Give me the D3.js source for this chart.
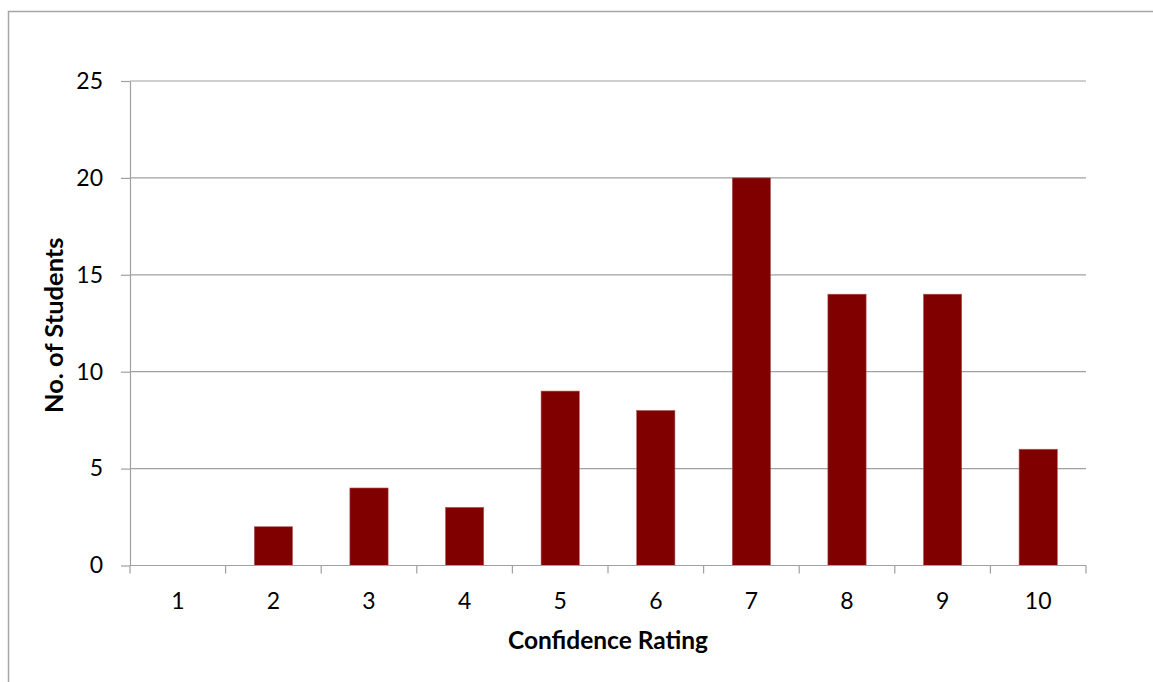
<!DOCTYPE html>
<html>
<head>
<meta charset="utf-8">
<script src="https://cdn.jsdelivr.net/npm/d3@7/dist/d3.min.js"></script>
<style>
html,body{margin:0;padding:0;background:#fff;}
svg{display:block;}
</style>
</head>
<body>
<svg id="chart" width="1153" height="682"></svg>
<script>
const categories = ["1","2","3","4","5","6","7","8","9","10"];
const students = [0,2,4,3,9,8,20,14,14,6];
const yTicks = [0,5,10,15,20,25];
const xTitle = "Confidence Rating";
const yTitle = "No. of Students";

const svg = d3.select("#chart");
const W = 1153, H = 682;
const m = {left:130, right:W-1086, top:81, bottom:H-565.5};
const font = "Lato, 'Liberation Sans', sans-serif";

// outer chart border
svg.append("path")
  .attr("d", `M8.5,682 L8.5,11.5 L1153,11.5`)
  .attr("fill","none").attr("stroke","#a6a6a6").attr("stroke-width",1.5);

const x = d3.scaleBand().domain(categories).range([m.left, W-m.right]).paddingInner(0.6).paddingOuter(0.3);
const xb = d3.scaleBand().domain(categories).range([m.left, W-m.right]);
const y = d3.scaleLinear().domain([0,25]).range([H-m.bottom, m.top]);

// gridlines
svg.append("g").selectAll("line").data(yTicks.filter(d=>d>0)).join("line")
  .attr("x1", m.left).attr("x2", W-m.right)
  .attr("y1", d=>y(d)).attr("y2", d=>y(d))
  .attr("stroke","#a0a0a0").attr("stroke-width",1.2);

// bars
svg.append("g").selectAll("rect").data(students.map((v,i)=>({c:categories[i],v}))).join("rect")
  .attr("x", d=>x(d.c)).attr("width", x.bandwidth())
  .attr("y", d=>y(d.v)).attr("height", d=>y(0)-y(d.v))
  .attr("fill","#800000").attr("stroke","#b05a5a").attr("stroke-width",0.6);

// y axis
const yAxis = d3.axisLeft(y).tickValues(yTicks).tickSize(9).tickPadding(18).tickSizeOuter(0);
const gy = svg.append("g").attr("transform",`translate(${m.left},0)`).call(yAxis);
gy.selectAll("path,line").attr("stroke","#a0a0a0").attr("stroke-width",1.2);
gy.selectAll("text").attr("font-family",font).attr("font-size",23).attr("fill","#000");

// x axis with ticks at category boundaries
const gx = svg.append("g").attr("transform",`translate(0,${y(0)})`);
gx.append("line").attr("x1",m.left).attr("x2",W-m.right).attr("y1",0).attr("y2",0)
  .attr("stroke","#a0a0a0").attr("stroke-width",1.2);
const bounds = categories.map(c=>xb(c)).concat([xb(categories[categories.length-1])+xb.bandwidth()]);
gx.selectAll("line.tk").data(bounds).join("line").attr("class","tk")
  .attr("x1",d=>d).attr("x2",d=>d).attr("y1",0).attr("y2",8)
  .attr("stroke","#a0a0a0").attr("stroke-width",1.2);
gx.selectAll("text").data(categories).join("text")
  .attr("x",d=>xb(d)+xb.bandwidth()/2).attr("y",43)
  .attr("text-anchor","middle").attr("font-family",font).attr("font-size",23).attr("fill","#000")
  .text(d=>d);

// axis titles
svg.append("text").attr("x",(m.left+W-m.right)/2).attr("y",649)
  .attr("text-anchor","middle").attr("font-family",font).attr("font-size",24.5)
  .attr("font-weight","bold").attr("fill","#000").text(xTitle);
svg.append("text").attr("transform",`translate(63,${(y(0)+y(25))/2+2}) rotate(-90)`)
  .attr("text-anchor","middle").attr("font-family",font).attr("font-size",25.5)
  .attr("font-weight","bold").attr("fill","#000").text(yTitle);
</script>
</body>
</html>
